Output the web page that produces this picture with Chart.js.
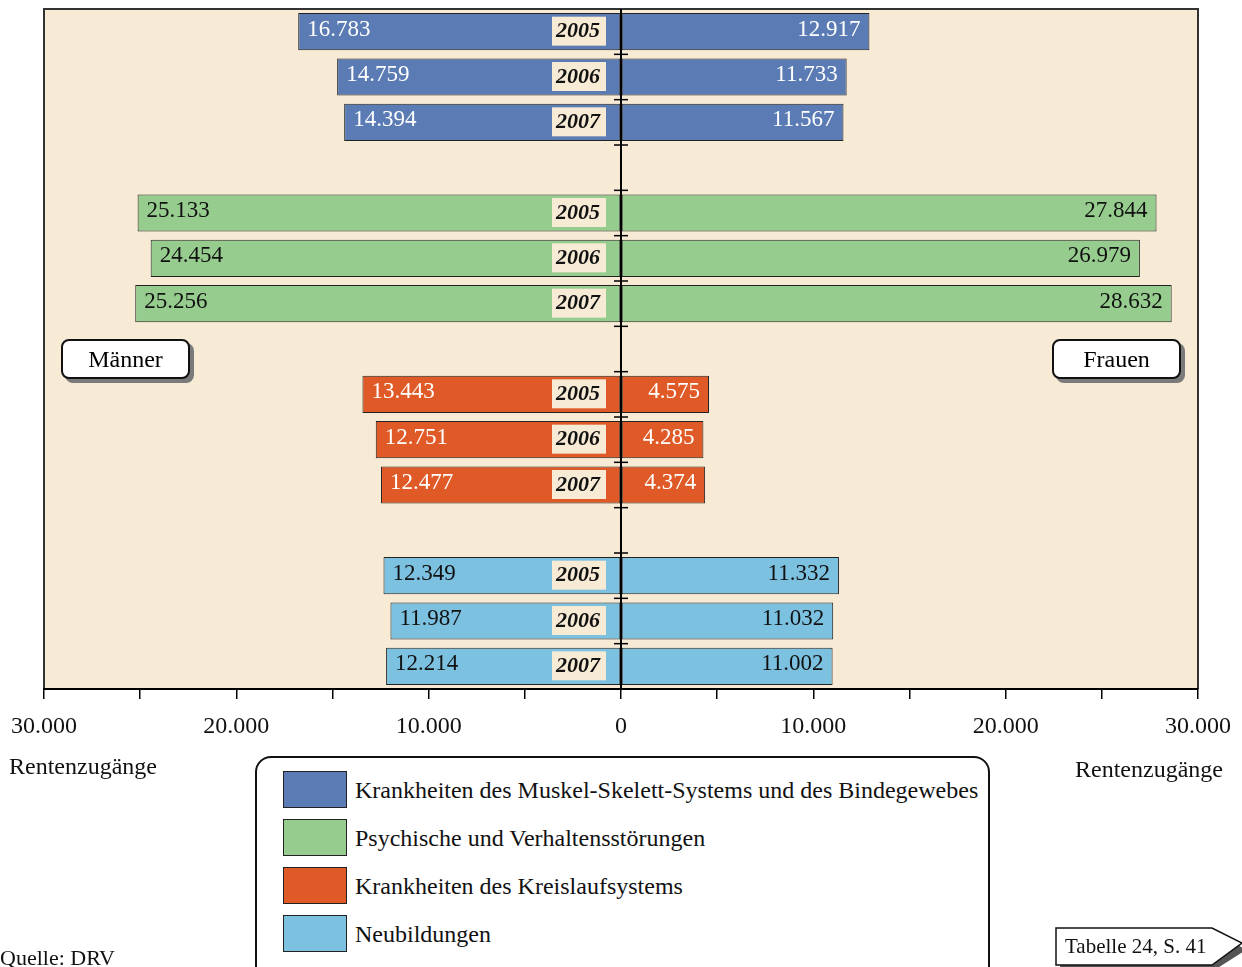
<!DOCTYPE html>
<html lang="de">
<head>
<meta charset="utf-8">
<title>Rentenzugänge nach Diagnosegruppen</title>
<script src="https://cdn.jsdelivr.net/npm/chart.js@4.4.1/dist/chart.umd.min.js"></script>
<style>
  body { margin: 0; background: #fff; font-family: "Liberation Serif", "Times New Roman", serif; }
  #wrap { position: relative; width: 1242px; height: 967px; overflow: hidden; }
  #chart { position: absolute; left: 0; top: 0; }
  .txt { position: absolute; color: #111; font-size: 24px; white-space: nowrap; }
  .sexbox { position: absolute; top: 339px; width: 125px; height: 36px; border: 2px solid #111; border-radius: 8px;
            background: #fff; box-shadow: 4px 4px 0 #7a7a7a; text-align: center; line-height: 36px; font-size: 24px; }
  #legend { position: absolute; left: 255px; top: 756px; width: 731px; height: 240px; border: 2px solid #111; border-radius: 16px; background: #fff; }
  .item { position: absolute; left: 26px; height: 37px; }
  .sw { position: absolute; left: 0; top: 0; width: 62px; height: 35px; border: 1px solid #222; }
  .lt { position: absolute; left: 72px; top: 1px; line-height: 37px; font-size: 24px; white-space: nowrap; color: #111; }
</style>
</head>
<body>
<div id="wrap">
  <canvas id="chart" width="1242" height="967"></canvas>
  <div class="sexbox" style="left:61px">Männer</div>
  <div class="sexbox" style="left:1052px">Frauen</div>
  <div class="txt" style="left:9px; top:753px">Rentenzugänge</div>
  <div class="txt" style="left:1075px; top:756px">Rentenzugänge</div>
  <div id="legend"></div>
  <div class="txt" style="left:0px; top:945px; font-size:22px">Quelle: DRV</div>
  <svg style="position:absolute; left:0; top:0" width="1242" height="967">
    <polygon points="1060,932 1216,932 1246,950 1216,969 1060,969" fill="#555"/>
    <polygon points="1056,928 1212,928 1242,943 1212,965 1056,965" fill="#fff" stroke="#111" stroke-width="1.5"/>
    <text x="1065" y="953" font-family="Liberation Serif" font-size="21" fill="#111">Tabelle 24, S. 41</text>
  </svg>
</div>
<script>
"use strict";

const years = ["2005", "2006", "2007"];
const groups = [
    "Krankheiten des Muskel-Skelett-Systems und des Bindegewebes",
    "Psychische und Verhaltensstörungen",
    "Krankheiten des Kreislaufsystems",
    "Neubildungen"
];
const colors = ["#5a7bb3", "#97cc8f", "#e05a27", "#7cc1e0"];
const labelColors = ["#fff", "#111", "#fff", "#111"];

const men = [
    [16783, 14759, 14394],
    [25133, 24454, 25256],
    [13443, 12751, 12477],
    [12349, 11987, 12214]
];
const women = [
    [12917, 11733, 11567],
    [27844, 26979, 28632],
    [4575, 4285, 4374],
    [11332, 11032, 11002]
];

const xTicks = [-30000, -20000, -10000, 0, 10000, 20000, 30000];

// build the 15 rows (3 years per group, an empty row between groups)
const rowLabels = [], rowMen = [], rowWomen = [], rowColors = [], rowText = [], rowYear = [];
groups.forEach((g, gi) => {
    years.forEach((y, yi) => {
        rowLabels.push(g + " " + y);
        rowMen.push(-men[gi][yi]);
        rowWomen.push(women[gi][yi]);
        rowColors.push(colors[gi]);
        rowText.push(labelColors[gi]);
        rowYear.push(y);
    });
    if (gi < groups.length - 1) {
        rowLabels.push("");
        rowMen.push(null);
        rowWomen.push(null);
        rowColors.push("rgba(0,0,0,0)");
        rowText.push("#000");
        rowYear.push(null);
    }
});

const fmt = v => Math.abs(v).toLocaleString("de-DE");

// legend
const legend = document.getElementById("legend");
groups.forEach((g, i) => {
    const d = document.createElement("div");
    d.className = "item";
    d.style.top = (13 + i * 48) + "px";
    d.innerHTML = '<div class="sw" style="background:' + colors[i] + '"></div><div class="lt">' + g + '</div>';
    legend.appendChild(d);
});

const pyramidPlugin = {
    id: "pyramid",
    beforeDraw(chart) {
        const { ctx, chartArea: a } = chart;
        ctx.save();
        ctx.fillStyle = "#f7ebd6";
        ctx.fillRect(a.left, a.top, a.right - a.left, a.bottom - a.top);
        ctx.strokeStyle = "#333";
        ctx.lineWidth = 2;
        ctx.beginPath();
        ctx.moveTo(a.left, a.bottom);
        ctx.lineTo(a.left, a.top);
        ctx.lineTo(a.right, a.top);
        ctx.lineTo(a.right, a.bottom);
        ctx.stroke();
        ctx.restore();
    },
    afterDatasetsDraw(chart) {
        const { ctx, chartArea: a, scales } = chart;
        const x0 = scales.x.getPixelForValue(0);
        const mMeta = chart.getDatasetMeta(0);
        const wMeta = chart.getDatasetMeta(1);
        ctx.save();
        ctx.textBaseline = "middle";
        rowLabels.forEach((lab, i) => {
            if (rowYear[i] === null) return;
            const mb = mMeta.data[i], wb = wMeta.data[i];
            const yc = mb.y;
            ctx.fillStyle = rowText[i];
            ctx.font = "23px 'Liberation Serif'";
            ctx.textAlign = "left";
            ctx.fillText(fmt(rowMen[i]), mb.x + 9, yc - 2);
            ctx.textAlign = "right";
            ctx.fillText(fmt(rowWomen[i]), wb.x - 9, yc - 2);
            // year tag
            ctx.fillStyle = "#f7ebd6";
            ctx.fillRect(x0 - 69, yc - 15, 54, 29);
            ctx.fillStyle = "#111";
            ctx.font = "italic bold 22px 'Liberation Serif'";
            ctx.textAlign = "right";
            ctx.fillText(rowYear[i], x0 - 21, yc);
        });
        // centre axis
        ctx.strokeStyle = "#000";
        ctx.lineWidth = 2;
        ctx.beginPath();
        ctx.moveTo(x0, a.top);
        ctx.lineTo(x0, a.bottom);
        ctx.stroke();
        const ys = scales.y;
        ctx.lineWidth = 1.5;
        for (let i = 1; i < rowLabels.length; i++) {
            const yb = (ys.getPixelForValue(i - 1) + ys.getPixelForValue(i)) / 2;
            ctx.beginPath();
            ctx.moveTo(x0 - 7, yb);
            ctx.lineTo(x0 + 7, yb);
            ctx.stroke();
        }
        ctx.restore();
    }
};

const barStyle = {
    backgroundColor: rowColors,
    borderColor: "#222",
    borderWidth: 1,
    borderSkipped: false,
    barPercentage: 0.82,
    categoryPercentage: 1
};

new Chart(document.getElementById("chart"), {
    type: "bar",
    data: {
        labels: rowLabels,
        datasets: [
            Object.assign({ label: "Männer", data: rowMen }, barStyle),
            Object.assign({ label: "Frauen", data: rowWomen }, barStyle)
        ]
    },
    options: {
        indexAxis: "y",
        responsive: false,
        animation: false,
        layout: { padding: { left: 44, right: 44, top: 9, bottom: 228 } },
        plugins: { legend: { display: false }, tooltip: { enabled: false } },
        scales: {
            x: {
                stacked: true,
                min: -30000,
                max: 30000,
                afterFit(s) {
                    s.height = 50;
                    s.paddingLeft = 0;
                    s.paddingRight = 0;
                },
                ticks: {
                    stepSize: 5000,
                    autoSkip: false,
                    maxRotation: 0,
                    padding: 13,
                    color: "#111",
                    font: { family: "Liberation Serif", size: 24 },
                    callback: v => xTicks.includes(v) ? fmt(v) : ""
                },
                grid: { drawOnChartArea: false, drawTicks: true, tickLength: 10, color: "#000", lineWidth: 1.5 },
                border: { color: "#000", width: 2 }
            },
            y: { stacked: true, display: false }
        }
    },
    plugins: [pyramidPlugin]
});
</script>
</body>
</html>
